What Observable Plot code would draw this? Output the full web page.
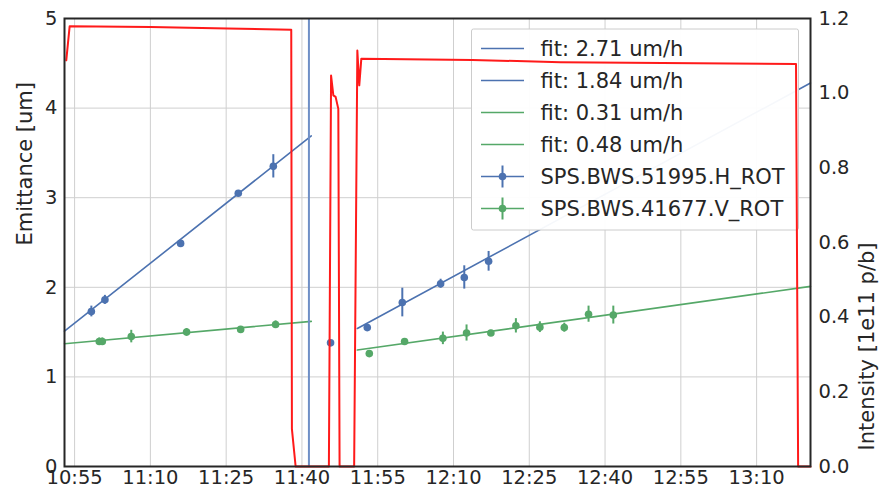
<!DOCTYPE html>
<html><head><meta charset="utf-8">
<script src="https://cdn.jsdelivr.net/npm/d3@7"></script>
<script src="https://cdn.jsdelivr.net/npm/@observablehq/plot@0.6"></script>
<style>body{margin:0;background:#fff;} #chart{width:879px;height:492px;}</style>
</head><body><div id="chart"></div>
<script>
// ---- data ----
const xTickLabels = ["10:55","11:10","11:25","11:40","11:55","12:10","12:25","12:40","12:55","13:10"];
const xDomain = ["10:53:00","13:20:40"];
const emittanceTicks = [0,1,2,3,4,5];
const intensityTicks = [0.0,0.2,0.4,0.6,0.8,1.0,1.2];
const intensityMax = 1.2, emittanceMax = 5;

const hTimes = ["10:58:19","11:01:00","11:15:59","11:27:24","11:34:20","11:45:40","11:52:56","11:59:52","12:07:27","12:12:08","12:16:57"];
const hValues = [1.73,1.86,2.49,3.05,3.35,1.38,1.55,1.83,2.04,2.11,2.29];
const hErrors = [0.06,0.05,0.03,0.03,0.13,0.02,0.03,0.16,0.05,0.13,0.11];

const vTimes = ["10:59:53","11:00:29","11:06:13","11:17:10","11:27:52","11:34:47","11:53:20","12:00:19","12:07:54","12:12:35","12:17:24","12:22:21","12:27:06","12:31:56","12:36:44","12:41:38"];
const vValues = [1.395,1.395,1.45,1.50,1.53,1.585,1.26,1.395,1.43,1.49,1.49,1.57,1.555,1.55,1.70,1.69];
const vErrors = [0.04,0.04,0.07,0.04,0.03,0.04,0.03,0.02,0.07,0.09,0.03,0.08,0.06,0.05,0.09,0.10];

const fitLabels = ["fit: 2.71 um/h","fit: 1.84 um/h","fit: 0.31 um/h","fit: 0.48 um/h"];
const fitSeries = ["H","H","V","V"];
const fitTimes = [["10:53:00","11:41:51"],["11:50:58","13:20:40"],["10:53:00","11:41:51"],["11:50:58","13:20:40"]];
const fitValues = [[1.51,3.69],[1.54,4.28],[1.37,1.62],[1.30,2.01]];

const seriesLabels = ["SPS.BWS.51995.H_ROT","SPS.BWS.41677.V_ROT"];
const markerTimes = ["11:41:23"];

const intensityTimes = ["10:53:21","10:54:01","11:10:02","11:25:17","11:37:53","11:38:01","11:38:45","11:45:20","11:45:46","11:46:13","11:46:40","11:47:12","11:47:27","11:50:20","11:50:58","11:51:21","11:51:45","12:13:43","12:31:12","13:17:48","13:18:13","13:20:40"];
const intensityValues = [1.088,1.179,1.177,1.173,1.170,0.10,0,0,1.047,0.994,0.99,0.958,0,0,1.114,1.021,1.092,1.089,1.083,1.078,0,0];

// ---- build ----
const parse = d3.utcParse("%H:%M:%S");
const parseHM = d3.utcParse("%H:%M");
const BLUE = "#4c72b0", GREEN = "#55a868", RED = "#ff1a1a";
const colorOf = s => s === "H" ? BLUE : GREEN;
const toY = v => v * emittanceMax / intensityMax;

const hData = hTimes.map((t,i)=>({t:parse(t), v:hValues[i], e:hErrors[i]}));
const vData = vTimes.map((t,i)=>({t:parse(t), v:vValues[i], e:vErrors[i]}));
const fitData = fitTimes.flatMap((ts,k)=>ts.map((t,j)=>({t:parse(t), v:fitValues[k][j], k, s:fitSeries[k]})));
const intData = intensityTimes.map((t,i)=>({t:parse(t), v:toY(intensityValues[i])}));
const xTicks = xTickLabels.map(parseHM);

const chart = Plot.plot({
  width: 879, height: 492,
  marginLeft: 64, marginRight: 69, marginTop: 18, marginBottom: 26,
  style: {fontFamily: "DejaVu Sans", fontSize: "19.5px", color: "#262626", background: "white"},
  x: {type: "utc", domain: xDomain.map(parse)},
  y: {domain: [0, emittanceMax]},
  marks: [
    Plot.gridX(xTicks, {stroke: "#cfcfcf", strokeOpacity: 1, strokeWidth: 1}),
    Plot.gridY(emittanceTicks, {stroke: "#cfcfcf", strokeOpacity: 1, strokeWidth: 1}),
    Plot.line(fitData, {x: "t", y: "v", z: "k", stroke: d => colorOf(d.s), strokeWidth: 1.6}),
    Plot.ruleX(hData, {x: "t", y1: d => d.v - d.e, y2: d => d.v + d.e, stroke: BLUE, strokeWidth: 2}),
    Plot.dot(hData, {x: "t", y: "v", r: 3.8, fill: BLUE}),
    Plot.ruleX(vData, {x: "t", y1: d => d.v - d.e, y2: d => d.v + d.e, stroke: GREEN, strokeWidth: 2}),
    Plot.dot(vData, {x: "t", y: "v", r: 3.8, fill: GREEN}),
    Plot.ruleX(markerTimes, {x: d => parse(d), stroke: "#6f8fc6", strokeWidth: 2}),
    Plot.line(intData, {x: "t", y: "v", stroke: RED, strokeWidth: 2}),
    Plot.frame({stroke: "#262626", strokeWidth: 2}),
    Plot.axisX(xTicks, {tickFormat: d3.utcFormat("%H:%M"), tickSize: 0, tickPadding: 4, label: null}),
    Plot.axisY(emittanceTicks, {anchor: "left", tickSize: 0, tickPadding: 7, label: null, tickFormat: d => String(d)}),
    Plot.axisY(intensityTicks.map(toY), {anchor: "right", tickSize: 0, tickPadding: 8, label: null,
      tickFormat: d => (d * intensityMax / emittanceMax).toFixed(1)}),
    Plot.text(["Emittance [um]"], {frameAnchor: "left", dx: -39, dy: 3, rotate: -90, fontSize: 21, fill: "#262626"}),
    Plot.text(["Intensity [1e11 p/b]"], {frameAnchor: "right", dx: 57, rotate: -90, fontSize: 21, fill: "#262626"})
  ]
});
document.getElementById("chart").appendChild(chart);

// ---- legend (drawn beneath the intensity line, like the twin axis in the original) ----
const redG = Array.from(chart.querySelectorAll("g")).find(g => g.getAttribute("stroke") === RED && g.querySelector("path"));
const lg = d3.create("svg:g").attr("font-family", "DejaVu Sans").attr("font-size", 21)
  .attr("fill", "#262626").attr("text-anchor", "start");
const box = {x: 471.5, y: 29, w: 327, h: 201, row0: 48.5, step: 32, h0: 481, h1: 524, tx: 540.5};
lg.append("rect").attr("x", box.x).attr("y", box.y).attr("width", box.w).attr("height", box.h)
  .attr("rx", 2).attr("fill", "white").attr("fill-opacity", 0.95).attr("stroke", "#cccccc").attr("stroke-width", 1);
const entries = fitLabels.map((l,k)=>({label:l, s:fitSeries[k], err:false}))
  .concat(seriesLabels.map((l,k)=>({label:l, s:k===0?"H":"V", err:true})));
entries.forEach((e,i)=>{
  const y = box.row0 + i*box.step;
  const c = colorOf(e.s);
  lg.append("line").attr("x1", box.h0).attr("x2", box.h1).attr("y1", y).attr("y2", y).attr("stroke", c).attr("stroke-width", 1.6);
  if (e.err) {
    const cx = (box.h0 + box.h1)/2;
    lg.append("line").attr("x1", cx).attr("x2", cx).attr("y1", y-11).attr("y2", y+11).attr("stroke", c).attr("stroke-width", 2);
    lg.append("circle").attr("cx", cx).attr("cy", y).attr("r", 3.8).attr("fill", c);
  }
  lg.append("text").attr("x", box.tx).attr("y", y).attr("dy", "0.36em").attr("text-anchor", "start").text(e.label);
});
if (redG) redG.parentNode.insertBefore(lg.node(), redG); else chart.appendChild(lg.node());
</script>
</body></html>
